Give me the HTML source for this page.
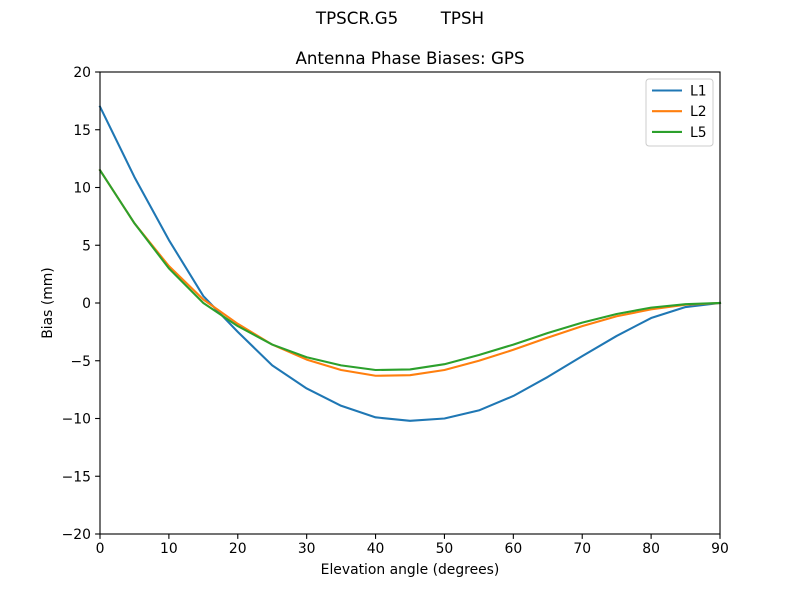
<!DOCTYPE html>
<html><head><meta charset="utf-8"><style>
body{margin:0;background:#fff;}
svg text{font-family:"DejaVu Sans","Liberation Sans",sans-serif;fill:#000;}
</style></head><body>
<svg id="chart" width="800" height="600" xmlns="http://www.w3.org/2000/svg">
<rect width="800" height="600" fill="#fff"/>
<text x="400" y="24" font-size="16.7" text-anchor="middle" xml:space="preserve">TPSCR.G5        TPSH</text>
<text x="410" y="64" font-size="16.7" text-anchor="middle">Antenna Phase Biases: GPS</text>
<g id="axes"></g>
<text x="410" y="574" font-size="13.9" text-anchor="middle">Elevation angle (degrees)</text>
<text transform="translate(52,303) rotate(-90)" font-size="13.9" text-anchor="middle">Bias (mm)</text>
</svg>
<script>
const elevations=[0,5,10,15,20,25,30,35,40,45,50,55,60,65,70,75,80,85,90];
const l1=[17.0,10.9,5.45,0.6,-2.5,-5.4,-7.4,-8.9,-9.9,-10.2,-10.0,-9.3,-8.05,-6.4,-4.6,-2.85,-1.3,-0.35,0];
const l2=[11.5,6.9,3.2,0.3,-1.8,-3.6,-4.9,-5.8,-6.3,-6.25,-5.8,-5.0,-4.05,-3.0,-2.0,-1.15,-0.55,-0.15,0];
const l5=[11.5,6.9,3.0,0.0,-2.0,-3.6,-4.7,-5.4,-5.8,-5.75,-5.3,-4.5,-3.6,-2.6,-1.7,-0.95,-0.4,-0.1,0];
const xTicks=[0,10,20,30,40,50,60,70,80,90];
const yTicks=[-20,-15,-10,-5,0,5,10,15,20];
const seriesNames=["L1","L2","L5"];
const seriesColors=["#1f77b4","#ff7f0e","#2ca02c"];

const X0=100,X1=720,Y0=72,Y1=534;
const sx=v=>X0+(v-0)/(90-0)*(X1-X0);
const sy=v=>Y1-(v+20)/40*(Y1-Y0);
const NS="http://www.w3.org/2000/svg";
const g=document.getElementById("axes");
function mk(t,a){const e=document.createElementNS(NS,t);for(const k in a)e.setAttribute(k,a[k]);g.appendChild(e);return e;}

const series=[l1,l2,l5];
series.forEach((s,i)=>{
  const p=mk("polyline",{points:s.map((v,j)=>sx(elevations[j])+","+sy(v)).join(" "),fill:"none",stroke:seriesColors[i],"stroke-width":2.08,"stroke-linejoin":"round","stroke-linecap":"square"});
  
  
});

const frame=mk("rect",{x:X0,y:Y0,width:X1-X0,height:Y1-Y0,fill:"none",stroke:"#000","stroke-width":1.1});



xTicks.forEach(v=>{
  const x=sx(v);
  mk("line",{x1:x,x2:x,y1:Y1,y2:Y1+4.9,stroke:"#000","stroke-width":1.1});
  const t=mk("text",{x:x,y:Y1+19,"font-size":13.9,"text-anchor":"middle"});
  t.textContent=v;
  
  
});
yTicks.forEach(v=>{
  const y=sy(v);
  mk("line",{x1:X0-4.9,x2:X0,y1:y,y2:y,stroke:"#000","stroke-width":1.1});
  const t=mk("text",{x:X0-9,y:y+5,"font-size":13.9,"text-anchor":"end"});
  t.textContent=(v<0?"\u2212"+(-v):v);
  
  
});

const lg=mk("rect",{x:646,y:79,width:67,height:67,rx:3,fill:"#fff",stroke:"#ccc","stroke-width":1});


seriesNames.forEach((n,i)=>{
  const y=90.5+i*20.7;
  const l=mk("line",{x1:652,x2:682,y1:y,y2:y,stroke:seriesColors[i],"stroke-width":2.08});
  
  
  const t=mk("text",{x:690,y:y+5,"font-size":13.9});
  t.textContent=n;
  
  
});
</script>
</body></html>
